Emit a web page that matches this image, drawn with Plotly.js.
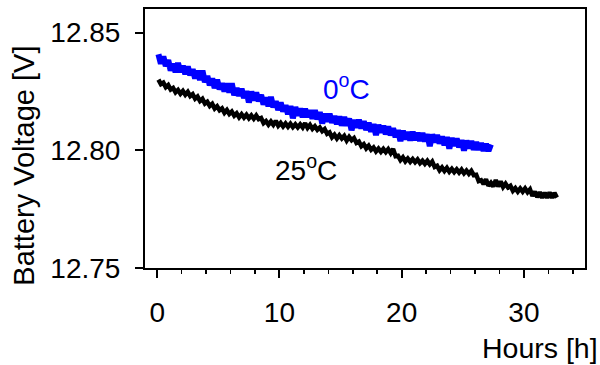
<!DOCTYPE html>
<html>
<head>
<meta charset="utf-8">
<script src="https://cdn.plot.ly/plotly-3.0.1.min.js"></script>
<style>html,body{margin:0;padding:0;background:#fff;}#chart{width:600px;height:365px;}</style>
</head>
<body>
<div id="chart"></div>
<script>
// Sampling: hours start and step (series sampled every 0.2 h)
const hoursStart = 0.1;
const hoursStep = 0.2;

// 0 °C series: battery voltage [V]
const volt0C = [
12.8408,12.8368,12.8398,12.8358,12.8383,12.8339,12.8367,12.8332,12.8370,12.8333,
12.8359,12.8323,12.8356,12.8319,12.8344,12.8305,12.8338,12.8298,12.8338,12.8289,
12.8315,12.8276,12.8305,12.8264,12.8299,12.8259,12.8284,12.8250,12.8284,12.8245,
12.8284,12.8234,12.8264,12.8231,12.8261,12.8222,12.8251,12.8203,12.8249,12.8212,
12.8245,12.8208,12.8235,12.8194,12.8224,12.8187,12.8226,12.8183,12.8208,12.8171,
12.8203,12.8165,12.8191,12.8153,12.8188,12.8136,12.8183,12.8148,12.8177,12.8141,
12.8176,12.8142,12.8170,12.8134,12.8170,12.8132,12.8162,12.8114,12.8155,12.8122,
12.8155,12.8117,12.8145,12.8111,12.8143,12.8105,12.8141,12.8105,12.8135,12.8085,
12.8129,12.8096,12.8129,12.8093,12.8123,12.8086,12.8117,12.8079,12.8111,12.8065,
12.8108,12.8075,12.8104,12.8068,12.8101,12.8064,12.8093,12.8056,12.8085,12.8039,
12.8083,12.8047,12.8077,12.8042,12.8078,12.8044,12.8074,12.8040,12.8073,12.8038,
12.8068,12.8018,12.8067,12.8034,12.8065,12.8029,12.8058,12.8022,12.8056,12.8007,
12.8052,12.8019,12.8050,12.8013,12.8043,12.7999,12.8041,12.8009,12.8039,12.8002,
12.8034,12.8002,12.8030,12.7998,12.8027,12.7997,12.8025
];

// 25 °C series: battery voltage [V]
const volt25C = [
12.8300,12.8281,12.8287,12.8268,12.8277,12.8258,12.8265,12.8246,12.8256,12.8240,
12.8252,12.8236,12.8248,12.8230,12.8238,12.8219,12.8228,12.8209,12.8218,12.8198,
12.8206,12.8188,12.8197,12.8177,12.8187,12.8170,12.8178,12.8159,12.8171,12.8154,
12.8164,12.8147,12.8157,12.8140,12.8153,12.8139,12.8151,12.8136,12.8148,12.8134,
12.8148,12.8132,12.8137,12.8115,12.8124,12.8109,12.8122,12.8108,12.8125,12.8104,
12.8116,12.8101,12.8114,12.8100,12.8113,12.8098,12.8110,12.8097,12.8110,12.8097,
12.8115,12.8095,12.8108,12.8091,12.8102,12.8087,12.8097,12.8081,12.8090,12.8070,
12.8076,12.8055,12.8066,12.8050,12.8064,12.8050,12.8061,12.8041,12.8057,12.8043,
12.8052,12.8031,12.8037,12.8017,12.8026,12.8008,12.8019,12.8002,12.8012,12.7995,
12.8007,12.7993,12.8006,12.7992,12.8005,12.7988,12.8006,12.7975,12.7977,12.7958,
12.7970,12.7953,12.7965,12.7951,12.7963,12.7949,12.7961,12.7945,12.7956,12.7942,
12.7955,12.7940,12.7952,12.7929,12.7934,12.7915,12.7927,12.7912,12.7925,12.7909,
12.7921,12.7907,12.7919,12.7905,12.7918,12.7902,12.7914,12.7900,12.7912,12.7894,
12.7896,12.7869,12.7873,12.7856,12.7877,12.7849,12.7862,12.7846,12.7873,12.7846,
12.7868,12.7844,12.7858,12.7842,12.7849,12.7828,12.7839,12.7824,12.7838,12.7824,
12.7838,12.7822,12.7834,12.7806,12.7824,12.7801,12.7822,12.7798,12.7820,12.7798,
12.7821,12.7798,12.7819,12.7799
];

// Axis ticks
const xTickVals = [0, 10, 20, 30];
const xTickText = ['0', '10', '20', '30'];
const yTickVals = [12.75, 12.80, 12.85];
const yTickText = ['12.75', '12.80', '12.85'];

// Labels
const seriesNames = ['0°C', '25°C'];
const xTitle = 'Hours [h]';
const yTitle = 'Battery Voltage [V]';

const FONT = 'Liberation Sans, Arial, sans-serif';

const traces = [
  {
    type: 'scatter', mode: 'lines', name: seriesNames[1],
    x0: hoursStart, dx: hoursStep, y: volt25C,
    line: {color: '#000000', width: 4.5, simplify: false},
    hoverinfo: 'skip'
  },
  {
    type: 'scatter', mode: 'lines', name: seriesNames[0],
    x0: hoursStart, dx: hoursStep, y: volt0C,
    line: {color: '#0000ff', width: 6, simplify: false},
    hoverinfo: 'skip'
  }
];

const layout = {
  width: 600, height: 365,
  margin: {l: 145, r: 15, t: 9, b: 97},
  paper_bgcolor: '#ffffff', plot_bgcolor: '#ffffff',
  showlegend: false,
  font: {family: FONT, size: 28, color: '#000000'},
  xaxis: {
    range: [-1, 35], showgrid: false, zeroline: false,
    showline: true, linecolor: '#000', linewidth: 2, mirror: true,
    ticks: 'outside', ticklen: 8, tickwidth: 2, tickcolor: '#000',
    tickvals: xTickVals, ticktext: xTickText,
    ticklabelstandoff: 10,
    tickfont: {family: FONT, size: 28, color: '#000'},
    minor: {dtick: 2, tick0: 0, ticks: 'outside', ticklen: 4, tickwidth: 1.5, tickcolor: '#000', showgrid: false}
  },
  yaxis: {
    range: [12.75, 12.86], showgrid: false, zeroline: false,
    showline: true, linecolor: '#000', linewidth: 2, mirror: true,
    ticks: 'outside', ticklen: 8, tickwidth: 2, tickcolor: '#000',
    tickvals: yTickVals, ticktext: yTickText,
    ticklabelstandoff: 9,
    tickfont: {family: FONT, size: 28, color: '#000'}
  },
  annotations: [
    {xref: 'paper', yref: 'paper', x: -0.275, y: 0.395, xanchor: 'center', yanchor: 'middle',
     textangle: -90, text: yTitle, showarrow: false, font: {family: FONT, size: 29, color: '#000'}},
    {xref: 'paper', yref: 'paper', x: 1.033, y: -0.31, xanchor: 'right', yanchor: 'middle',
     text: xTitle, showarrow: false, font: {family: FONT, size: 28.5, color: '#000'}},
    {xref: 'x', yref: 'y', x: 13.4, y: 12.827, xanchor: 'left', yanchor: 'middle',
     text: '0<sup>o</sup>C', showarrow: false, font: {family: FONT, size: 28, color: '#0000ff'}},
    {xref: 'x', yref: 'y', x: 9.5, y: 12.7925, xanchor: 'left', yanchor: 'middle',
     text: '25<sup>o</sup>C', showarrow: false, font: {family: FONT, size: 28, color: '#000000'}}
  ]
};

Plotly.newPlot('chart', traces, layout, {staticPlot: true, displayModeBar: false});
</script>
</body>
</html>
